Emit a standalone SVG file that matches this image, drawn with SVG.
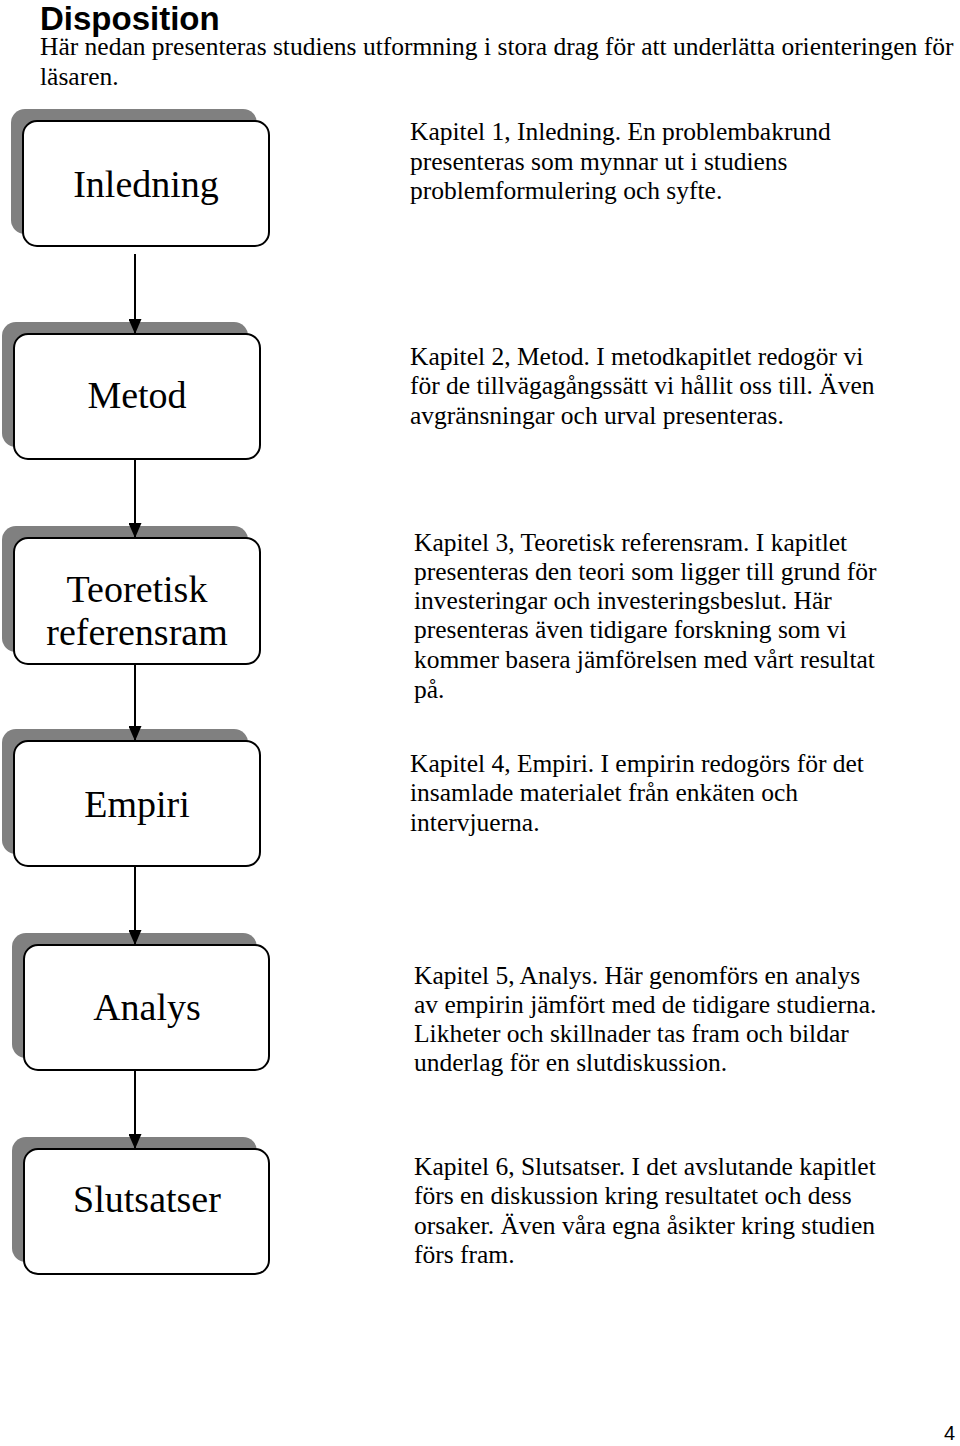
<svg xmlns="http://www.w3.org/2000/svg" width="960" height="1446" viewBox="0 0 960 1446">
<defs>
<style>
.shadow{fill:#808080;stroke:none}
.box{fill:#ffffff;stroke:#000000;stroke-width:2}
.lbl{font-family:"Liberation Serif","Times New Roman",serif;font-size:38px;fill:#000;text-anchor:middle}
.desc{font-family:"Liberation Serif","Times New Roman",serif;font-size:25.5px;fill:#000}
.conn{stroke:#000;stroke-width:2;fill:none}
</style>
<marker id="arrow" markerWidth="15" markerHeight="13" refX="15" refY="6.5" orient="auto" markerUnits="userSpaceOnUse" viewBox="0 0 15 13">
<path d="M0,0 L15,6.5 L0,13 Z" fill="#000"/>
</marker>
</defs>
<rect width="960" height="1446" fill="#ffffff"/>
<text x="40" y="30" font-family="Liberation Sans, Arial, sans-serif" font-weight="bold" font-size="33" fill="#000">Disposition</text>
<text x="40" y="55" font-family="Liberation Serif, Times New Roman, serif" font-size="25.5" fill="#000">Här nedan presenteras studiens utformning i stora drag för att underlätta orienteringen för</text>
<text x="40" y="85" font-family="Liberation Serif, Times New Roman, serif" font-size="25.5" fill="#000">läsaren.</text>

<g id="node-inledning">
<rect class="shadow" x="11" y="109" width="246" height="125" rx="14"/>
<rect class="box" x="23" y="121" width="246" height="125" rx="14"/>
<text class="lbl" x="146" y="197">Inledning</text>
<text class="desc" x="410" y="140">Kapitel 1, Inledning. En problembakrund</text>
<text class="desc" x="410" y="170">presenteras som mynnar ut i studiens</text>
<text class="desc" x="410" y="199">problemformulering och syfte.</text>
</g>

<g id="node-metod">
<rect class="shadow" x="2" y="322" width="246" height="125" rx="14"/>
<rect class="box" x="14" y="334" width="246" height="125" rx="14"/>
<text class="lbl" x="137" y="408">Metod</text>
<text class="desc" x="410" y="365">Kapitel 2, Metod. I metodkapitlet redogör vi</text>
<text class="desc" x="410" y="394">för de tillvägagångssätt vi hållit oss till. Även</text>
<text class="desc" x="410" y="424">avgränsningar och urval presenteras.</text>
</g>

<g id="node-teoretisk">
<rect class="shadow" x="2" y="526" width="246" height="126" rx="14"/>
<rect class="box" x="14" y="538" width="246" height="126" rx="14"/>
<text class="lbl" x="137" y="602">Teoretisk</text>
<text class="lbl" x="137" y="645">referensram</text>
<text class="desc" x="414" y="551">Kapitel 3, Teoretisk referensram. I kapitlet</text>
<text class="desc" x="414" y="580">presenteras den teori som ligger till grund för</text>
<text class="desc" x="414" y="609">investeringar och investeringsbeslut. Här</text>
<text class="desc" x="414" y="638">presenteras även tidigare forskning som vi</text>
<text class="desc" x="414" y="668">kommer basera jämförelsen med vårt resultat</text>
<text class="desc" x="414" y="698">på.</text>
</g>

<g id="node-empiri">
<rect class="shadow" x="2" y="729" width="246" height="125" rx="14"/>
<rect class="box" x="14" y="741" width="246" height="125" rx="14"/>
<text class="lbl" x="137" y="817">Empiri</text>
<text class="desc" x="410" y="772">Kapitel 4, Empiri. I empirin redogörs för det</text>
<text class="desc" x="410" y="801">insamlade materialet från enkäten och</text>
<text class="desc" x="410" y="831">intervjuerna.</text>
</g>

<g id="node-analys">
<rect class="shadow" x="12" y="933" width="245" height="125" rx="14"/>
<rect class="box" x="24" y="945" width="245" height="125" rx="14"/>
<text class="lbl" x="147" y="1020">Analys</text>
<text class="desc" x="414" y="984">Kapitel 5, Analys. Här genomförs en analys</text>
<text class="desc" x="414" y="1013">av empirin jämfört med de tidigare studierna.</text>
<text class="desc" x="414" y="1042">Likheter och skillnader tas fram och bildar</text>
<text class="desc" x="414" y="1071">underlag för en slutdiskussion.</text>
</g>

<g id="node-slutsatser">
<rect class="shadow" x="12" y="1137" width="245" height="125" rx="14"/>
<rect class="box" x="24" y="1149" width="245" height="125" rx="14"/>
<text class="lbl" x="147" y="1212">Slutsatser</text>
<text class="desc" x="414" y="1175">Kapitel 6, Slutsatser. I det avslutande kapitlet</text>
<text class="desc" x="414" y="1204">förs en diskussion kring resultatet och dess</text>
<text class="desc" x="414" y="1234">orsaker. Även våra egna åsikter kring studien</text>
<text class="desc" x="414" y="1263">förs fram.</text>
</g>

<g id="connectors">
<line class="conn" x1="135" y1="254" x2="135" y2="334" marker-end="url(#arrow)"/>
<line class="conn" x1="135" y1="459" x2="135" y2="538" marker-end="url(#arrow)"/>
<line class="conn" x1="135" y1="664" x2="135" y2="741" marker-end="url(#arrow)"/>
<line class="conn" x1="135" y1="866" x2="135" y2="945" marker-end="url(#arrow)"/>
<line class="conn" x1="135" y1="1070" x2="135" y2="1149" marker-end="url(#arrow)"/>
</g>

<text x="955" y="1440" text-anchor="end" font-family="Liberation Sans, Arial, sans-serif" font-size="20" fill="#000">4</text>
</svg>
